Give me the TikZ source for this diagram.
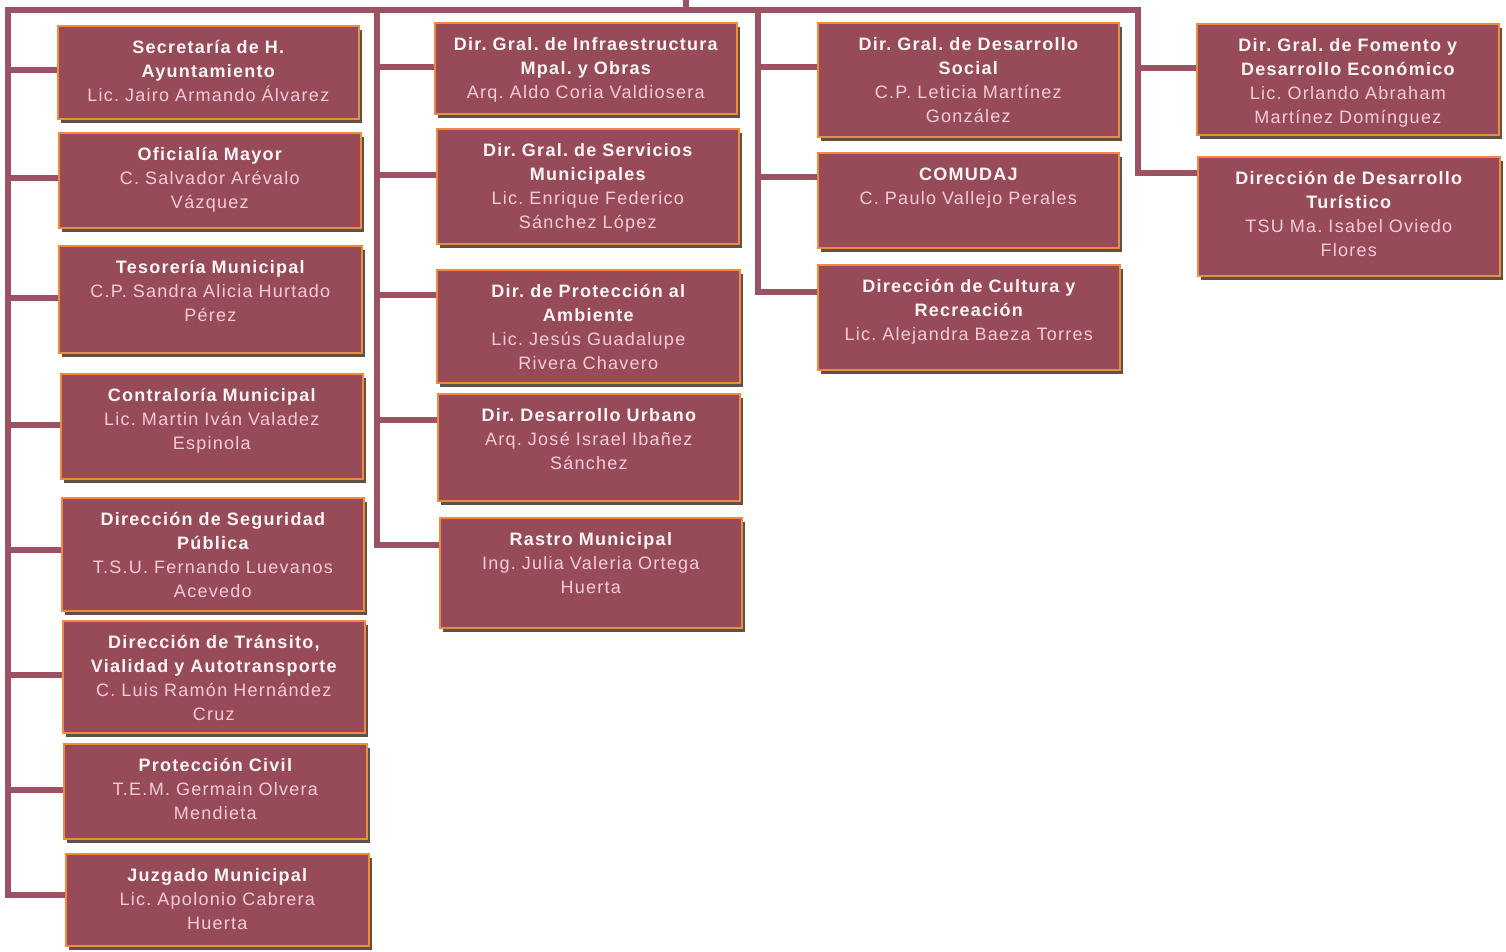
\documentclass[tikz,border=0pt]{standalone}
\usepackage{fontspec}
\setmainfont{Liberation Sans}[LetterSpace=7]
\usetikzlibrary{calc}
\pgfdeclarelayer{bg}
\pgfsetlayers{bg,main}
\definecolor{boxfill}{HTML}{974A58}
\definecolor{linec}{HTML}{9C5262}
\definecolor{edgec}{HTML}{F08A3E}
\definecolor{shadowc}{HTML}{5E5247}
\definecolor{tw}{HTML}{FFF6F6}
\definecolor{tp}{HTML}{F6CCD8}
\tikzset{
  conn/.style={draw=linec, line width=6pt, line cap=rect, line join=miter},
  orgbox/.style={draw=edgec, line width=1.6pt, fill=boxfill, inner sep=0pt, anchor=north west},
  orgtext/.style={inner sep=0pt, anchor=north, text width=300pt, align=center,
    font=\frenchspacing\fontsize{18}{24}\selectfont},
}
\newcommand\mkbox[7]{%
  \fill[shadowc] (#2+4,#3+5) rectangle (#4+4,#5+5);
  \node[orgbox, minimum width={#4-#2}, minimum height={#5-#3}] (#1) at (#2,#3) {};
  \node[orgtext] (#1t) at ($(#1.north)+(0,13.5)$) {\rule{0pt}{15pt}{\bfseries\color{tw}#6}\\{\color{tp}#7}};
}
\begin{document}
\begin{tikzpicture}[x=1pt,y=-1pt]
\useasboundingbox (0,0) rectangle (1506,952);
% column 1
\mkbox{A1}{57}{25}{358}{118}{Secretaría de H.\\Ayuntamiento}{Lic. Jairo Armando Álvarez}
\mkbox{A2}{58}{132}{360}{227}{Oficialía Mayor}{C. Salvador Arévalo\\Vázquez}
\mkbox{A3}{58}{245}{361}{352}{Tesorería Municipal}{C.P. Sandra Alicia Hurtado\\Pérez}
\mkbox{A4}{60}{373}{362}{478}{Contraloría Municipal}{Lic. Martin Iván Valadez\\Espinola}
\mkbox{A5}{61}{497}{363}{610}{Dirección de Seguridad\\Pública}{T.S.U. Fernando Luevanos\\Acevedo}
\mkbox{A6}{62}{620}{364}{732}{Dirección de Tránsito,\\Vialidad y Autotransporte}{C. Luis Ramón Hernández\\Cruz}
\mkbox{A7}{63}{743}{366}{838}{Protección Civil}{T.E.M. Germain Olvera\\Mendieta}
\mkbox{A8}{65}{853}{368}{945}{Juzgado Municipal}{Lic. Apolonio Cabrera\\Huerta}
% column 2
\mkbox{B1}{434}{22}{736}{113}{Dir. Gral. de Infraestructura\\Mpal. y Obras}{Arq. Aldo Coria Valdiosera}
\mkbox{B2}{436}{128}{738}{243}{Dir. Gral. de Servicios\\Municipales}{Lic. Enrique Federico\\Sánchez López}
\mkbox{B3}{436}{269}{739}{382}{Dir. de Protección al\\Ambiente}{Lic. Jesús Guadalupe\\Rivera Chavero}
\mkbox{B4}{437}{393}{739}{500}{Dir. Desarrollo Urbano}{Arq. José Israel Ibañez\\Sánchez}
\mkbox{B5}{439}{517}{741}{627}{Rastro Municipal}{Ing. Julia Valeria Ortega\\Huerta}
% column 3
\mkbox{C1}{817}{22}{1118}{136}{Dir. Gral. de Desarrollo\\Social}{C.P. Leticia Martínez\\González}
\mkbox{C2}{817}{152}{1118}{247}{COMUDAJ}{C. Paulo Vallejo Perales}
\mkbox{C3}{817}{264}{1119}{369}{Dirección de Cultura y\\Recreación}{Lic. Alejandra Baeza Torres}
% column 4
\mkbox{D1}{1196}{23}{1498}{134}{Dir. Gral. de Fomento y\\Desarrollo Económico}{Lic. Orlando Abraham\\Martínez Domínguez}
\mkbox{D2}{1197}{156}{1499}{275}{Dirección de Desarrollo\\Turístico}{TSU Ma. Isabel Oviedo\\Flores}
% connectors
\coordinate (root) at (686,-5);
\coordinate (bar) at (686,10);
\coordinate (t1) at (8,10);
\coordinate (t2) at (377,10);
\coordinate (t3) at (758,10);
\coordinate (t4) at (1138,10);
\begin{pgfonlayer}{bg}
\draw[conn] (root) -- (bar);
\draw[conn] (t1) -- (t4);
\draw[conn] (t1) |- ([yshift=-45pt]A1.north west);
\draw[conn] (t1) |- ([yshift=-46pt]A2.north west);
\draw[conn] (t1) |- ([yshift=-53pt]A3.north west);
\draw[conn] (t1) |- ([yshift=-52pt]A4.north west);
\draw[conn] (t1) |- ([yshift=-53pt]A5.north west);
\draw[conn] (t1) |- ([yshift=-55pt]A6.north west);
\draw[conn] (t1) |- ([yshift=-47pt]A7.north west);
\draw[conn] (t1) |- ([yshift=-42pt]A8.north west);
\draw[conn] (t2) |- ([yshift=-45pt]B1.north west);
\draw[conn] (t2) |- ([yshift=-47pt]B2.north west);
\draw[conn] (t2) |- ([yshift=-26pt]B3.north west);
\draw[conn] (t2) |- ([yshift=-27pt]B4.north west);
\draw[conn] (t2) |- ([yshift=-28pt]B5.north west);
\draw[conn] (t3) |- ([yshift=-45pt]C1.north west);
\draw[conn] (t3) |- ([yshift=-25pt]C2.north west);
\draw[conn] (t3) |- ([yshift=-28pt]C3.north west);
\draw[conn] (t4) |- ([yshift=-45pt]D1.north west);
\draw[conn] (t4) |- ([yshift=-17pt]D2.north west);
\end{pgfonlayer}
\end{tikzpicture}
\end{document}
